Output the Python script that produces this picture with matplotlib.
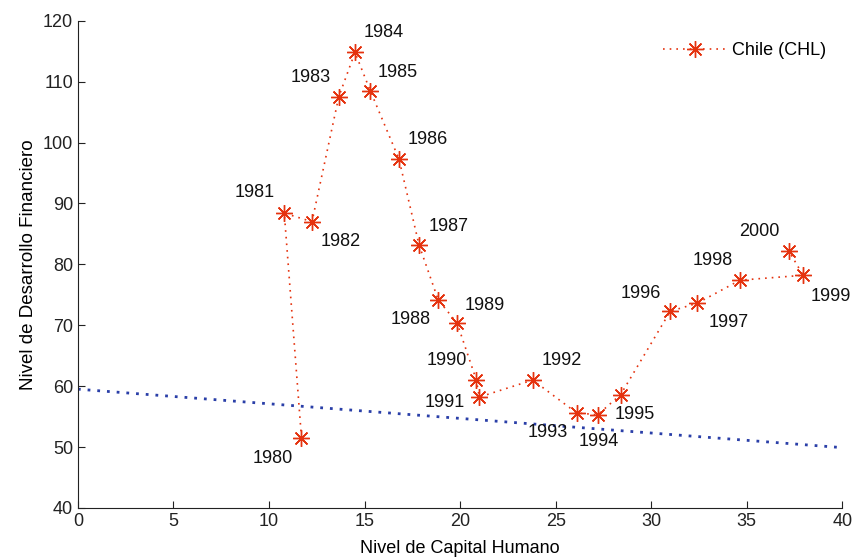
import matplotlib.pyplot as plt

plt.rcParams['font.family'] = ['Liberation Sans', 'DejaVu Sans']

years = [1980, 1981, 1982, 1983, 1984, 1985, 1986, 1987, 1988, 1989, 1990,
         1991, 1992, 1993, 1994, 1995, 1996, 1997, 1998, 1999, 2000]
capital = [11.7, 10.8, 12.25, 13.65, 14.5, 15.3, 16.8, 17.85, 18.85, 19.85, 20.85,
           21.0, 23.8, 26.1, 27.2, 28.4, 31.0, 32.4, 34.65, 37.95, 37.2]
financiero = [51.5, 88.4, 87.0, 107.5, 114.8, 108.5, 97.3, 83.2, 74.2, 70.3, 61.0,
              58.2, 61.0, 55.6, 55.3, 58.6, 72.3, 73.6, 77.4, 78.2, 82.2]

# recta de tendencia
trend_x = [0, 40]
trend_y = [59.5, 49.9]

# desplazamiento de cada etiqueta en puntos (dx, dy)
label_off = {1980: (-21, -15), 1981: (-21, 15), 1982: (21, -14), 1983: (-20, 14),
             1984: (21, 14), 1985: (20, 13), 1986: (21, 14), 1987: (21, 13),
             1988: (-20, -14), 1989: (20, 13), 1990: (-21, 14), 1991: (-25, -4),
             1992: (21, 14), 1993: (-21, -14), 1994: (1, -19), 1995: (10, -14),
             1996: (-21, 13), 1997: (23, -14), 1998: (-20, 14), 1999: (20, -15),
             2000: (-21, 14)}

red = '#e5330f'
blue = '#2a3fa8'

fig = plt.figure(figsize=(8.56, 5.6), dpi=100)
ax = fig.add_axes([0.091, 0.093, 0.893, 0.870])

ax.plot(trend_x, trend_y, color=blue, linewidth=2.0, linestyle=(0, (1, 2.5)))
ax.plot(capital, financiero, color=red, linewidth=1.2, linestyle=(0, (1, 3)),
        marker=(8, 2, 0), markersize=12, markeredgewidth=1.0,
        markeredgecolor=red, label='Chile (CHL)')

for yr, cx, cy in zip(years, capital, financiero):
    dx, dy = label_off[yr]
    ax.annotate(str(yr), (cx, cy), xytext=(dx, dy),
                textcoords='offset points', ha='center', va='center',
                fontsize=13, color='#111111')

ax.set_xlim(0, 40)
ax.set_ylim(40, 120)
ax.set_xticks(range(0, 41, 5))
ax.set_yticks(range(40, 121, 10))
ax.tick_params(direction='in', length=5, labelsize=13, colors='#222222')
for s in ['top', 'right']:
    ax.spines[s].set_visible(False)
for s in ['left', 'bottom']:
    ax.spines[s].set_color('#222222')

ax.set_xlabel('Nivel de Capital Humano', fontsize=13, labelpad=7)
ax.set_ylabel('Nivel de Desarrollo Financiero', fontsize=13.5, labelpad=4)

ax.legend(loc='upper right', frameon=False, fontsize=13,
          handlelength=3.5, handletextpad=0.3, bbox_to_anchor=(1.0, 0.99))

plt.savefig('out.png', dpi=100)
